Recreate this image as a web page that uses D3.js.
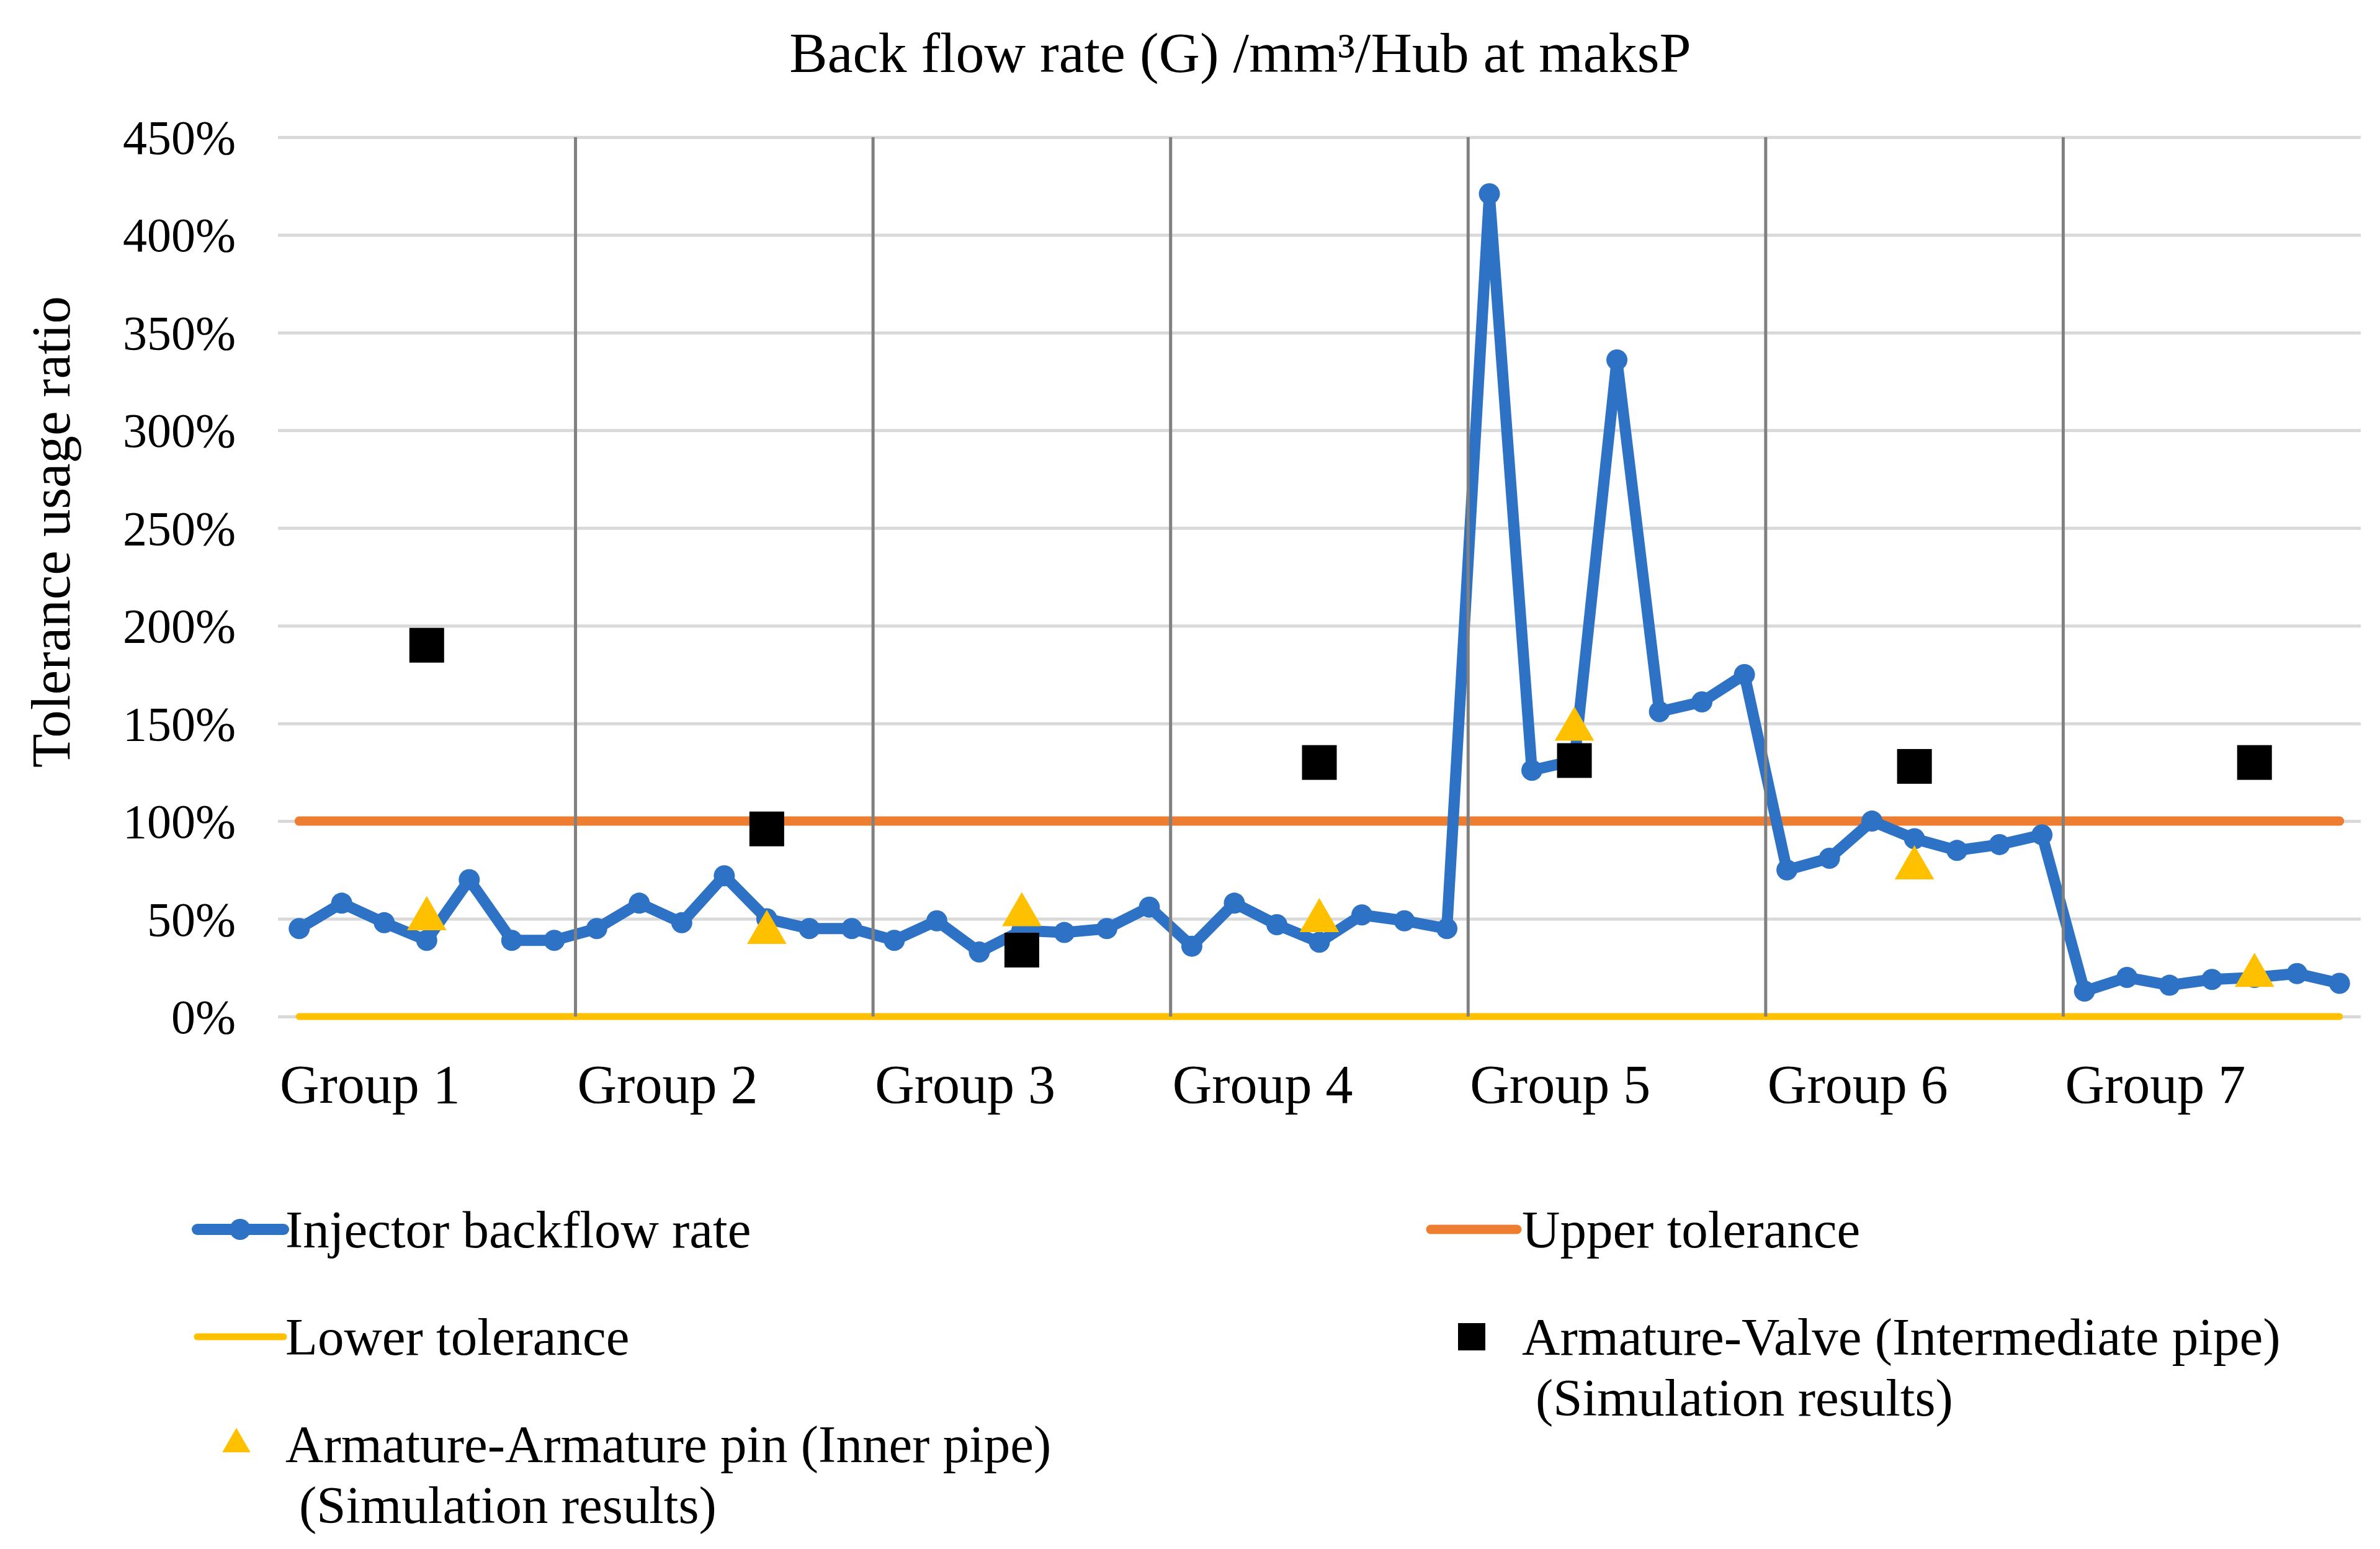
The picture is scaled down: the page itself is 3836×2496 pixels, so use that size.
<!DOCTYPE html>
<html>
<head>
<meta charset="utf-8">
<script src="https://cdn.jsdelivr.net/npm/d3@7"></script>
<style>
  body { margin: 0; background: #fff; }
  svg { display: block; font-family: "Liberation Serif", "Times New Roman", serif; }
</style>
</head>
<body>
<svg id="chart"></svg>
<script>
// data
const groups = ["Group 1", "Group 2", "Group 3", "Group 4", "Group 5", "Group 6", "Group 7"];
const perGroup = 7;
// injector backflow rate, %, 7 samples per group
const backflow = [
  45, 58, 48, 39, 70, 39, 39,
  45, 58, 48, 72, 50, 45, 45,
  39, 49, 33, 44, 43, 45, 56,
  36, 58, 47, 38, 52, 49, 45,
  421, 126, 131, 336, 156, 161, 175,
  75, 81, 100, 91, 85, 88, 93,
  13, 20, 16, 19, 20, 22, 17
];
const simSlot = [3, 4, 3, 3, 2, 3, 4];                 // sample inside each group where the simulation is shown
const valveSim = [190, 96, 34, 130, 131, 128, 130];   // Armature-Valve (Intermediate pipe)
const pinSim = [50, 43, 52, 49, 147, 76, 21];          // Armature-Armature pin (Inner pipe)
const upperTol = 100;
const lowerTol = 0;
const yTicks = [0, 50, 100, 150, 200, 250, 300, 350, 400, 450];

const width = 3836;
const height = 2496;
const plotLeft = 448, plotRight = 3805;
const plotTop = 221, plotBottom = 1638;

const blue = "#2e72c6", orange = "#ed7d31", yellow = "#ffc000";

const svg = d3.select("#chart")
  .attr("width", width)
  .attr("height", height)
  .attr("viewBox", [0, 0, width, height]);

svg.append("rect").attr("width", width).attr("height", height).attr("fill", "#fff");

// scales
const x = d3.scaleBand(d3.range(backflow.length), [plotLeft, plotRight]).padding(0);
const cx = i => x(i) + x.bandwidth() / 2;
const y = d3.scaleLinear([0, 450], [plotBottom, plotTop]);

// title
svg.append("text")
  .attr("x", 1999).attr("y", 116)
  .attr("text-anchor", "middle")
  .style("font-size", "92px")
  .text("Back flow rate (G) /mm³/Hub at maksP");

// y axis title
svg.append("text")
  .attr("transform", `translate(112,857) rotate(-90)`)
  .attr("text-anchor", "middle")
  .style("font-size", "89px")
  .text("Tolerance usage ratio");

// y axis + gridlines
const yAxis = svg.append("g")
  .attr("transform", `translate(${plotLeft},0)`)
  .call(d3.axisLeft(y)
    .tickValues(yTicks)
    .tickFormat(d => d + "%")
    .tickSize(-(plotRight - plotLeft))
    .tickPadding(68));
yAxis.select(".domain").remove();
yAxis.selectAll(".tick line").attr("stroke", "#d9d9d9").attr("stroke-width", 5);
yAxis.selectAll(".tick text")
  .attr("fill", "#000")
  .attr("dy", "0.34em")
  .style("font-size", "78px")
  .style("font-family", "Liberation Serif, Times New Roman, serif");

// tolerance lines
const first = cx(0), last = cx(backflow.length - 1);
svg.append("line")
  .attr("x1", first).attr("x2", last)
  .attr("y1", y(lowerTol)).attr("y2", y(lowerTol))
  .attr("stroke", yellow).attr("stroke-width", 11).attr("stroke-linecap", "round");
svg.append("line")
  .attr("x1", first).attr("x2", last)
  .attr("y1", y(upperTol)).attr("y2", y(upperTol))
  .attr("stroke", orange).attr("stroke-width", 15).attr("stroke-linecap", "round");

// injector backflow line
const line = d3.line()
  .x((d, i) => cx(i))
  .y(d => y(d));
svg.append("path")
  .datum(backflow)
  .attr("d", line)
  .attr("fill", "none")
  .attr("stroke", blue)
  .attr("stroke-width", 18)
  .attr("stroke-linejoin", "round");
svg.append("g").selectAll("circle")
  .data(backflow)
  .join("circle")
  .attr("cx", (d, i) => cx(i))
  .attr("cy", d => y(d))
  .attr("r", 17)
  .attr("fill", blue);

// group separators
svg.append("g").selectAll("line")
  .data(d3.range(1, groups.length))
  .join("line")
  .attr("x1", g => x(g * perGroup)).attr("x2", g => x(g * perGroup))
  .attr("y1", plotTop).attr("y2", plotBottom)
  .attr("stroke", "#808080").attr("stroke-width", 5);

// simulation results
const mid = g => cx(g * perGroup + simSlot[g]);
const tri = d3.symbol().type(d3.symbolTriangle).size(1750);
svg.append("g").selectAll("path")
  .data(pinSim)
  .join("path")
  .attr("transform", (d, g) => `translate(${mid(g)},${y(d)})`)
  .attr("d", tri)
  .attr("fill", yellow);

const sq = 56;
svg.append("g").selectAll("rect")
  .data(valveSim)
  .join("rect")
  .attr("x", (d, g) => mid(g) - sq / 2)
  .attr("y", d => y(d) - sq / 2)
  .attr("width", sq).attr("height", sq)
  .attr("fill", "#000");

// group labels
svg.append("g").selectAll("text")
  .data(groups)
  .join("text")
  .attr("x", (d, g) => x(g * perGroup) + 3)
  .attr("y", 1777)
  .style("font-size", "88px")
  .text(d => d);

// legend
const legend = svg.append("g").style("font-size", "85px");
function lineItem(x0, yc, color, w, marker) {
  legend.append("line")
    .attr("x1", x0).attr("x2", x0 + 139)
    .attr("y1", yc).attr("y2", yc)
    .attr("stroke", color).attr("stroke-width", w).attr("stroke-linecap", "round");
  if (marker) {
    legend.append("circle").attr("cx", x0 + 69).attr("cy", yc).attr("r", 17).attr("fill", color);
  }
}
function label(x0, yc, lines) {
  lines.forEach((t, k) => {
    legend.append("text")
      .attr("x", x0 + (k ? 22 : 0))
      .attr("y", yc + 29 + k * 98)
      .text(t);
  });
}
lineItem(318, 1981, blue, 18, true);
label(460, 1981, ["Injector backflow rate"]);
lineItem(2306, 1981, orange, 15, false);
label(2453, 1981, ["Upper tolerance"]);
lineItem(318, 2154, yellow, 11, false);
label(460, 2154, ["Lower tolerance"]);
legend.append("rect")
  .attr("x", 2372 - 22).attr("y", 2154 - 22)
  .attr("width", 44).attr("height", 44).attr("fill", "#000");
label(2453, 2154, ["Armature-Valve (Intermediate pipe)", "(Simulation results)"]);
legend.append("path")
  .attr("transform", "translate(381,2327)")
  .attr("d", d3.symbol().type(d3.symbolTriangle).size(900))
  .attr("fill", yellow);
label(460, 2327, ["Armature-Armature pin (Inner pipe)", "(Simulation results)"]);
</script>
</body>
</html>
